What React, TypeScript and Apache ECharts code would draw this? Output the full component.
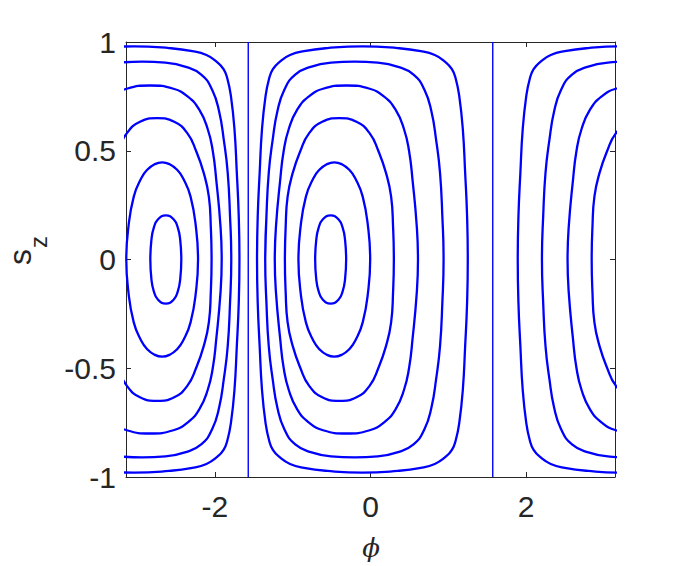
import React, { useEffect, useRef } from "react";
import * as echarts from "echarts";

// Tick values
const xTicks = [-2, 0, 2];
const yTicks = [-1, -0.5, 0, 0.5, 1];

// Separatrices (vertical lines) at phi = -pi/2, +pi/2
const sepLeft = [[-1.5708, -1], [-1.5708, 1]];
const sepRight = [[1.5708, -1], [1.5708, 1]];

// Middle cell orbits
const M1 = [[-0.711,0],[-0.697,0.09],[-0.667,0.145],[-0.612,0.185],[-0.512,0.203],[-0.412,0.185],[-0.357,0.145],[-0.327,0.09],[-0.313,0],[-0.327,-0.09],[-0.357,-0.145],[-0.412,-0.185],[-0.512,-0.203],[-0.612,-0.185],[-0.667,-0.145],[-0.697,-0.09],[-0.711,0],[-0.697,0.09]];
const M2 = [[-0.926,0],[-0.903,0.136],[-0.83,0.289],[-0.732,0.375],[-0.658,0.412],[-0.562,0.438],[-0.465,0.447],[-0.368,0.438],[-0.272,0.412],[-0.198,0.375],[-0.1,0.289],[-0.027,0.136],[-0.004,0],[-0.027,-0.136],[-0.1,-0.289],[-0.198,-0.375],[-0.272,-0.412],[-0.368,-0.438],[-0.465,-0.447],[-0.562,-0.438],[-0.658,-0.412],[-0.732,-0.375],[-0.83,-0.289],[-0.903,-0.136],[-0.926,0],[-0.903,0.136]];
const M3 = [[-1.10,0],[-1.09,0.15],[-1.065,0.289],[-1.0,0.397],[-0.9,0.5],[-0.79,0.58],[-0.62,0.633],[-0.40,0.65],[-0.18,0.633],[-0.01,0.58],[0.1,0.5],[0.2,0.397],[0.265,0.289],[0.29,0.15],[0.30,0],[0.29,-0.15],[0.265,-0.289],[0.2,-0.397],[0.1,-0.5],[-0.01,-0.58],[-0.18,-0.633],[-0.40,-0.65],[-0.62,-0.633],[-0.79,-0.58],[-0.9,-0.5],[-1.0,-0.397],[-1.065,-0.289],[-1.09,-0.15],[-1.10,0],[-1.09,0.15]];
const M4 = [[-1.23,0],[-1.215,0.15],[-1.16,0.366],[-1.115,0.5],[-1.05,0.6],[-0.94,0.69],[-0.79,0.75],[-0.61,0.785],[-0.31,0.80],[-0.01,0.785],[0.17,0.75],[0.32,0.69],[0.43,0.6],[0.495,0.5],[0.54,0.366],[0.595,0.15],[0.61,0],[0.595,-0.15],[0.54,-0.366],[0.495,-0.5],[0.43,-0.6],[0.32,-0.69],[0.17,-0.75],[-0.01,-0.785],[-0.31,-0.8],[-0.61,-0.785],[-0.79,-0.75],[-0.94,-0.69],[-1.05,-0.6],[-1.115,-0.5],[-1.16,-0.366],[-1.215,-0.15],[-1.23,0],[-1.215,0.15]];
const M5 = [[-1.353,0],[-1.337,0.2],[-1.307,0.4],[-1.257,0.55],[-1.197,0.68],[-1.107,0.78],[-0.967,0.85],[-0.757,0.887],[-0.507,0.905],[-0.207,0.91],[0.093,0.905],[0.343,0.887],[0.553,0.85],[0.693,0.78],[0.783,0.68],[0.843,0.55],[0.893,0.4],[0.923,0.2],[0.939,0],[0.923,-0.2],[0.893,-0.4],[0.843,-0.55],[0.783,-0.68],[0.693,-0.78],[0.553,-0.85],[0.343,-0.887],[0.093,-0.905],[-0.207,-0.91],[-0.507,-0.905],[-0.757,-0.887],[-0.967,-0.85],[-1.107,-0.78],[-1.197,-0.68],[-1.257,-0.55],[-1.307,-0.4],[-1.337,-0.2],[-1.353,0],[-1.337,0.2]];
const M6 = [[-1.458,0],[-1.449,0.2],[-1.424,0.4],[-1.394,0.6],[-1.349,0.75],[-1.304,0.83],[-1.254,0.875],[-1.164,0.91],[-1.034,0.94],[-0.854,0.958],[-0.554,0.972],[-0.104,0.98],[0.346,0.972],[0.646,0.958],[0.826,0.94],[0.956,0.91],[1.046,0.875],[1.096,0.83],[1.141,0.75],[1.186,0.6],[1.216,0.4],[1.241,0.2],[1.25,0],[1.241,-0.2],[1.216,-0.4],[1.186,-0.6],[1.141,-0.75],[1.096,-0.83],[1.046,-0.875],[0.956,-0.91],[0.826,-0.94],[0.646,-0.958],[0.346,-0.972],[-0.104,-0.98],[-0.554,-0.972],[-0.854,-0.958],[-1.034,-0.94],[-1.164,-0.91],[-1.254,-0.875],[-1.304,-0.83],[-1.349,-0.75],[-1.394,-0.6],[-1.424,-0.4],[-1.449,-0.2],[-1.458,0],[-1.449,0.2]];

// Left cell orbits (clipped at phi = -pi)
const L1 = [[-2.431,0],[-2.445,0.09],[-2.475,0.145],[-2.53,0.185],[-2.63,0.203],[-2.73,0.185],[-2.785,0.145],[-2.815,0.09],[-2.829,0],[-2.815,-0.09],[-2.785,-0.145],[-2.73,-0.185],[-2.63,-0.203],[-2.53,-0.185],[-2.475,-0.145],[-2.445,-0.09],[-2.431,0],[-2.445,0.09]];
const L2 = [[-2.216,0],[-2.239,0.136],[-2.312,0.289],[-2.41,0.375],[-2.484,0.412],[-2.58,0.438],[-2.677,0.447],[-2.774,0.438],[-2.87,0.412],[-2.944,0.375],[-3.042,0.289],[-3.115,0.136],[-3.138,0],[-3.115,-0.136],[-3.042,-0.289],[-2.944,-0.375],[-2.87,-0.412],[-2.774,-0.438],[-2.677,-0.447],[-2.58,-0.438],[-2.484,-0.412],[-2.41,-0.375],[-2.312,-0.289],[-2.239,-0.136],[-2.216,0],[-2.239,0.136]];
const L3 = [[-3.342,0.397],[-3.242,0.5],[-3.132,0.58],[-2.962,0.633],[-2.742,0.65],[-2.522,0.633],[-2.352,0.58],[-2.242,0.5],[-2.142,0.397],[-2.077,0.289],[-2.052,0.15],[-2.042,0],[-2.052,-0.15],[-2.077,-0.289],[-2.142,-0.397],[-2.242,-0.5],[-2.352,-0.58],[-2.522,-0.633],[-2.742,-0.65],[-2.962,-0.633],[-3.132,-0.58],[-3.242,-0.5],[-3.342,-0.397]];
const L4 = [[-3.462,0.69],[-3.312,0.75],[-3.132,0.785],[-2.832,0.80],[-2.532,0.785],[-2.352,0.75],[-2.202,0.69],[-2.092,0.6],[-2.027,0.5],[-1.982,0.366],[-1.927,0.15],[-1.912,0],[-1.927,-0.15],[-1.982,-0.366],[-2.027,-0.5],[-2.092,-0.6],[-2.202,-0.69],[-2.352,-0.75],[-2.532,-0.785],[-2.832,-0.80],[-3.132,-0.785],[-3.312,-0.75],[-3.462,-0.69]];
const L5 = [[-3.485,0.887],[-3.235,0.905],[-2.935,0.91],[-2.635,0.905],[-2.385,0.887],[-2.175,0.85],[-2.035,0.78],[-1.945,0.68],[-1.885,0.55],[-1.835,0.4],[-1.805,0.2],[-1.789,0],[-1.805,-0.2],[-1.835,-0.4],[-1.885,-0.55],[-1.945,-0.68],[-2.035,-0.78],[-2.175,-0.85],[-2.385,-0.887],[-2.635,-0.905],[-2.935,-0.91],[-3.235,-0.905],[-3.485,-0.887]];
const L6 = [[-3.488,0.972],[-3.038,0.98],[-2.588,0.972],[-2.288,0.958],[-2.108,0.94],[-1.978,0.91],[-1.888,0.875],[-1.838,0.83],[-1.793,0.75],[-1.748,0.6],[-1.718,0.4],[-1.693,0.2],[-1.684,0],[-1.693,-0.2],[-1.718,-0.4],[-1.748,-0.6],[-1.793,-0.75],[-1.838,-0.83],[-1.888,-0.875],[-1.978,-0.91],[-2.108,-0.94],[-2.288,-0.958],[-2.588,-0.972],[-3.038,-0.98],[-3.488,-0.972]];

// Right cell orbits (clipped at phi = +pi)
const R3 = [[3.542,0.65],[3.322,0.633],[3.152,0.58],[3.042,0.5],[2.942,0.397],[2.877,0.289],[2.852,0.15],[2.842,0],[2.852,-0.15],[2.877,-0.289],[2.942,-0.397],[3.042,-0.5],[3.152,-0.58],[3.322,-0.633],[3.542,-0.65]];
const R4 = [[3.452,0.80],[3.152,0.785],[2.972,0.75],[2.822,0.69],[2.712,0.6],[2.647,0.5],[2.602,0.366],[2.547,0.15],[2.532,0],[2.547,-0.15],[2.602,-0.366],[2.647,-0.5],[2.712,-0.6],[2.822,-0.69],[2.972,-0.75],[3.152,-0.785],[3.452,-0.8]];
const R5 = [[3.649,0.905],[3.349,0.91],[3.049,0.905],[2.799,0.887],[2.589,0.85],[2.449,0.78],[2.359,0.68],[2.299,0.55],[2.249,0.4],[2.219,0.2],[2.203,0],[2.219,-0.2],[2.249,-0.4],[2.299,-0.55],[2.359,-0.68],[2.449,-0.78],[2.589,-0.85],[2.799,-0.887],[3.049,-0.905],[3.349,-0.91],[3.649,-0.905]];
const R6 = [[3.696,0.972],[3.246,0.98],[2.796,0.972],[2.496,0.958],[2.316,0.94],[2.186,0.91],[2.096,0.875],[2.046,0.83],[2.001,0.75],[1.956,0.6],[1.926,0.4],[1.901,0.2],[1.892,0],[1.901,-0.2],[1.926,-0.4],[1.956,-0.6],[2.001,-0.75],[2.046,-0.83],[2.096,-0.875],[2.186,-0.91],[2.316,-0.94],[2.496,-0.958],[2.796,-0.972],[3.246,-0.98],[3.696,-0.972]];

const orbits = [M1, M2, M3, M4, M5, M6, L1, L2, L3, L4, L5, L6, R3, R4, R5, R6];

const BLUE = "#0000ff";
const AX = "#262626";
const FONT = '"Liberation Sans", Arial, Helvetica, sans-serif';

export default function App() {
  const ref = useRef<HTMLDivElement>(null);
  useEffect(() => {
    if (!ref.current) return;
    const chart = echarts.init(ref.current, null, { renderer: "svg" });
    const axisLine = { show: true, onZero: false, lineStyle: { color: AX, width: 1 } };
    const xBase = {
      type: "value" as const,
      min: -Math.PI,
      max: Math.PI,
      splitLine: { show: false },
      axisLine,
    };
    const yBase = {
      type: "value" as const,
      min: -1,
      max: 1,
      interval: 0.5,
      splitLine: { show: false },
      axisLine,
    };
    const series: any[] = orbits.map((d) => ({
      type: "line",
      data: d,
      smooth: 0.5,
      showSymbol: false,
      symbol: "none",
      clip: true,
      lineStyle: { color: BLUE, width: 2.3 },
      silent: true,
    }));
    [sepLeft, sepRight].forEach((d) =>
      series.push({
        type: "line",
        data: d,
        showSymbol: false,
        symbol: "none",
        lineStyle: { color: BLUE, width: 1.4 },
        silent: true,
      })
    );
    chart.setOption({
      animation: false,
      grid: { left: 126, top: 42, width: 489, height: 435, containLabel: false },
      xAxis: [
        {
          ...xBase,
          position: "bottom",
          axisTick: { show: true, inside: true, length: 5, customValues: xTicks, lineStyle: { color: AX } },
          axisLabel: { customValues: xTicks, fontSize: 30, color: AX, fontFamily: FONT, margin: 14 },
        },
        {
          ...xBase,
          position: "top",
          axisTick: { show: true, inside: true, length: 5, customValues: xTicks, lineStyle: { color: AX } },
          axisLabel: { show: false },
        },
      ],
      yAxis: [
        {
          ...yBase,
          position: "left",
          axisTick: { show: true, inside: true, length: 5, customValues: yTicks, lineStyle: { color: AX } },
          axisLabel: { customValues: yTicks, fontSize: 30, color: AX, fontFamily: FONT, margin: 10, formatter: (v: number) => String(v) },
        },
        {
          ...yBase,
          position: "right",
          axisTick: { show: true, inside: true, length: 5, customValues: yTicks, lineStyle: { color: AX } },
          axisLabel: { show: false },
        },
      ],
      series,
      graphic: [
        {
          type: "text",
          x: 371,
          y: 548,
          style: {
            text: "\u03D5",
            font: 'italic 26px "DejaVu Serif", serif',
            fill: AX,
            align: "center",
            verticalAlign: "middle",
            textAlign: "center",
            textVerticalAlign: "middle",
          },
        },
        {
          type: "group",
          x: 36,
          y: 265,
          rotation: Math.PI / 2,
          children: [
            {
              type: "text",
              x: 0,
              y: 0,
              style: { text: "s", font: `32px ${FONT}`, fill: AX, align: "left", verticalAlign: "bottom", textAlign: "left", textVerticalAlign: "bottom" },
            },
            {
              type: "text",
              x: 17,
              y: 14,
              style: { text: "z", font: `24px ${FONT}`, fill: AX, align: "left", verticalAlign: "bottom", textAlign: "left", textVerticalAlign: "bottom" },
            },
          ],
        },
      ],
    });
    return () => chart.dispose();
  }, []);
  return (
    <div
      ref={ref}
      style={{ position: "absolute", left: 0, top: 0, width: 680, height: 566, background: "#fff" }}
    />
  );
}
